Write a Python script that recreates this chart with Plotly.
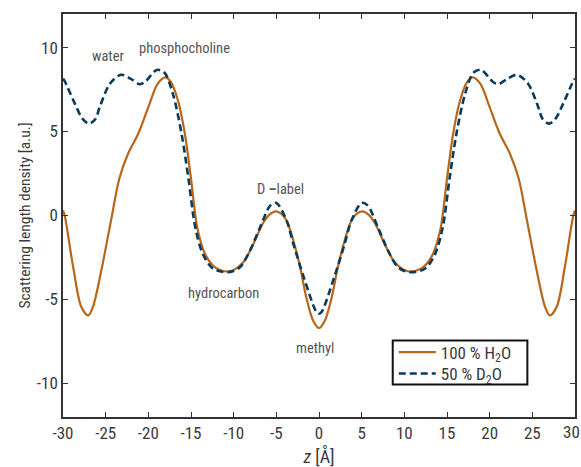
import plotly.graph_objects as go

# ---- data ----
z_h2o = [-30, -29.8, -28.8, -27.85, -27.05, -26.5, -25.5, -24.3, -23.4, -22.4, -21.2, -20.0,
         -18.9, -18.0, -17.3, -16.5, -15.7, -15.0, -14.2, -13.2, -12.0, -10.4, -8.9, -7.7,
         -6.5, -5.8, -5.1, -4.4, -3.8, -3.0, -2.2, -1.5, -0.7, 0,
         0.7, 1.5, 2.2, 3.0, 3.8, 4.4, 5.1, 5.8, 6.5, 7.7, 8.9, 10.4, 12.0, 13.2, 14.2,
         15.0, 15.7, 16.5, 17.3, 18.0, 18.9, 20.0, 21.2, 22.4, 23.4, 24.3, 25.5, 26.5,
         27.05, 27.85, 28.8, 29.8, 30]
sld_h2o = [0.3, 0.0, -3.1, -5.45, -5.95, -5.45, -3.25, -0.1, 2.2, 3.65, 4.85, 6.45,
           7.85, 8.22, 7.9, 6.8, 4.8, 2.2, -0.9, -2.45, -3.15, -3.32, -2.8, -1.7,
           -0.4, 0.05, 0.25, 0.1, -0.3, -1.5, -3.1, -4.85, -6.25, -6.7,
           -6.25, -4.85, -3.1, -1.5, -0.3, 0.1, 0.25, 0.05, -0.4, -1.7, -2.8, -3.32, -3.15, -2.45, -0.9,
           2.2, 4.8, 6.8, 7.9, 8.22, 7.85, 6.45, 4.85, 3.65, 2.2, -0.1, -3.25, -5.45,
           -5.95, -5.45, -3.1, 0.0, 0.3]

z_d2o = [-30, -29.8, -28.6, -27.7, -26.95, -26.2, -25.7, -24.5, -23.2, -22.0, -21.0, -20.4,
         -19.0, -18.1, -17.1, -16.1, -15.3, -14.5, -13.6, -12.4, -10.6, -9.3, -8.1, -6.9,
         -5.7, -5.0, -3.8, -3.0, -1.8, -0.3, 0,
         0.3, 1.8, 3.0, 3.8, 5.0, 5.7, 6.9, 8.1, 9.3, 10.6, 12.4, 13.6, 14.5, 15.3, 16.1,
         17.1, 18.1, 19.0, 20.4, 21.0, 22.0, 23.2, 24.5, 25.7, 26.2, 26.95, 27.7, 28.6, 29.8, 30]
sld_d2o = [8.15, 8.0, 6.65, 5.75, 5.47, 5.75, 6.45, 7.85, 8.38, 8.12, 7.82, 7.95,
           8.67, 8.5, 7.2, 4.85, 2.2, -0.7, -2.3, -3.17, -3.37, -3.1, -2.1, -0.7,
           0.6, 0.75, -0.3, -1.7, -3.65, -5.75, -5.85,
           -5.75, -3.65, -1.7, -0.3, 0.75, 0.6, -0.7, -2.1, -3.1, -3.37, -3.17, -2.3, -0.7, 2.2, 4.85,
           7.2, 8.5, 8.67, 7.95, 7.82, 8.12, 8.38, 7.85, 6.45, 5.75, 5.47, 5.75, 6.65, 8.0, 8.15]

x_ticks = [-30, -25, -20, -15, -10, -5, 0, 5, 10, 15, 20, 25, 30]
# the last label ("30") sits at the very edge; it is drawn as an annotation just inside the page
x_ticktext = ["-30", "-25", "-20", "-15", "-10", "-5", "0", "5", "10", "15", "20", "25", ""]
edge_label_text = "30"
edge_label_z = 29.6
y_ticks = [-10, -5, 0, 5, 10]
y_ticktext = ["-10", "-5", "0", "5", "10"]

label_text = ["water", "phosphocholine", "D <b>\u2013</b>label", "hydrocarbon", "methyl"]
label_z = [-24.7, -15.8, -4.55, -11.25, -0.45]
label_y = [9.45, 9.95, 1.55, -4.65, -7.95]

FONT = "Roboto Condensed, Liberation Sans Narrow, Roboto, sans-serif"
C_H2O = "#B8661A"
C_D2O = "#083C5C"
TXT = "#3a3a3a"

fig = go.Figure()
fig.add_trace(go.Scatter(x=z_h2o, y=sld_h2o, mode="lines", name="100 % H<sub>2</sub>O",
                         legend="legend",
                         line=dict(color=C_H2O, width=2.2, shape="spline", smoothing=0.9)))
fig.add_trace(go.Scatter(x=z_d2o, y=sld_d2o, mode="lines", name="50 % D<sub>2</sub>O",
                         legend="legend2",
                         line=dict(color=C_D2O, width=2.6, dash="7px,4px", shape="spline", smoothing=0.9)))

for t, xz, yy in zip(label_text, label_z, label_y):
    fig.add_annotation(x=xz, y=yy, text=t, showarrow=False,
                       font=dict(family=FONT, size=14.5, color="#555555"))

fig.add_annotation(x=edge_label_z, xref="x", y=-0.037, yref="paper", yanchor="middle",
                   text=edge_label_text, showarrow=False,
                   font=dict(family=FONT, size=17, color=TXT))

# legend frame (as in the reference)
fig.add_shape(type="rect", xref="paper", yref="paper", x0=0.644, x1=0.907, y0=0.0805, y1=0.190,
              line=dict(color="#111111", width=2), fillcolor="white", layer="above")

axis_common = dict(showgrid=False, zeroline=False, showline=True, linecolor="#333333",
                   linewidth=1.6, mirror="allticks", ticks="inside", ticklen=5,
                   tickcolor="#333333", tickwidth=1.2,
                   tickfont=dict(family=FONT, size=17, color=TXT))

fig.update_xaxes(range=[-30, 30], tickvals=x_ticks, ticktext=x_ticktext,
                 title=dict(text="<i>z</i> [\u00c5]", font=dict(family=FONT, size=18, color=TXT),
                            standoff=11),
                 **axis_common)
fig.update_yaxes(range=[-12, 12], tickvals=y_ticks, ticktext=y_ticktext,
                 title=dict(text="Scattering length density [a.u.]",
                            font=dict(family=FONT, size=15.5, color=TXT), standoff=2),
                 **axis_common)

leg_common = dict(xanchor="left", yanchor="middle", borderwidth=0, bgcolor="rgba(0,0,0,0)",
                  font=dict(family=FONT, size=17, color=TXT), itemwidth=37)

fig.update_layout(
    width=581, height=467,
    margin=dict(l=63, r=6, t=14, b=50, autoexpand=False),
    plot_bgcolor="white", paper_bgcolor="white",
    font=dict(family=FONT, color=TXT),
    legend=dict(x=0.646, y=0.160, **leg_common),
    legend2=dict(x=0.646, y=0.107, **leg_common),
    showlegend=True,
)

fig.write_html("out.html", config={"displayModeBar": False},
               post_script="document.body.style.margin='0';")
